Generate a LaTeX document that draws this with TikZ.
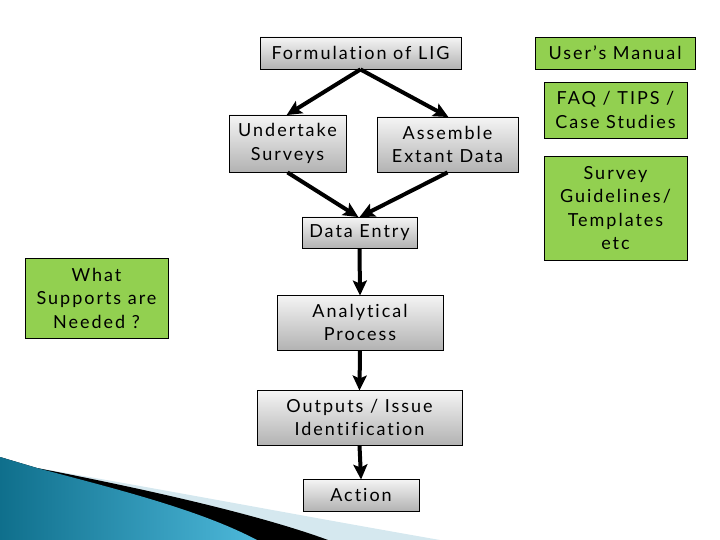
\documentclass[tikz,border=0pt]{standalone}
\usepackage{fontspec}
\setmainfont{Lato}[LetterSpace=11,Ligatures=CommonOff]
\usetikzlibrary{arrows.meta}
\definecolor{boxgreen}{HTML}{92D050}
\definecolor{swooshdark}{HTML}{0F6F8C}
\definecolor{swooshlight}{HTML}{4DB8DA}
\definecolor{swooshpale}{HTML}{D5E8EF}
\tikzset{
  graybox/.style={draw=black, line width=0.9pt, top color=gray!8, bottom color=gray!60,
    inner sep=0pt, align=center, font=\fontsize{18}{23.5}\selectfont},
  greenbox/.style={draw=black, line width=0.9pt, fill=boxgreen,
    inner sep=0pt, align=center, font=\fontsize{18}{23.5}\selectfont},
  flowarrow/.style={line width=4pt, -{Stealth[length=15pt,width=14pt,inset=3pt]}, shorten >=-1pt},
}
\begin{document}
\begin{tikzpicture}[x=1pt,y=-1pt]
\useasboundingbox (0,0) rectangle (720,540);
% swoosh
\fill[swooshpale] (37,468) .. controls (150,487) and (280,512) .. (440,540) -- (0,540) -- (0,457) -- cycle;
\fill[black] (37,468) .. controls (150,490) and (260,515) .. (328,540) -- (0,540) -- (0,457) -- cycle;
\shade[left color=swooshdark, right color=swooshlight] (0,457) -- (37,468) .. controls (120,490) and (200,510) .. (257,540) -- (0,540) -- cycle;
% flow nodes
\node[graybox, minimum width=201pt, minimum height=32pt] (form) at (360.5,53) {Formulation of LIG};
\node[graybox, minimum width=117pt, minimum height=57pt] (under) at (287.5,143.5) {Undertake\\Surveys};
\node[graybox, minimum width=141pt, minimum height=55pt] (assem) at (447.5,144.5) {Assemble\\Extant Data};
\node[graybox, minimum width=115pt, minimum height=31pt] (data) at (359.5,232.5) {Data Entry};
\node[graybox, minimum width=166pt, minimum height=55pt] (anal) at (360,322.5) {Analytical\\Process};
\node[graybox, minimum width=205pt, minimum height=55pt] (out) at (359.5,417.5) {Outputs / Issue\\Identification};
\node[graybox, minimum width=116pt, minimum height=32pt] (act) at (361,495) {Action};
% green nodes
\node[greenbox, minimum width=143pt, minimum height=80pt] (what) at (96.5,298) {What\\Supports are\\Needed ?};
\node[greenbox, minimum width=160pt, minimum height=32pt] (um) at (615,53) {User’s Manual};
\node[greenbox, minimum width=143pt, minimum height=56pt] (faq) at (615.5,110) {FAQ / TIPS /\\Case Studies};
\node[greenbox, minimum width=143pt, minimum height=104pt] (surv) at (615.5,208) {Survey\\Guidelines/\\Templates\\etc};
% connectors
\draw[flowarrow] (form.south) -- (under.north);
\draw[flowarrow] (form.south) -- (assem.north);
\draw[flowarrow] (under.south) -- ([xshift=-2pt]data.north);
\draw[flowarrow] (assem.south) -- ([xshift=1pt]data.north);
\draw[flowarrow] (data.south) -- (anal.north);
\draw[flowarrow] (anal.south) -- (out.north);
\draw[flowarrow] (out.south) -- (act.north);
\end{tikzpicture}
\end{document}
